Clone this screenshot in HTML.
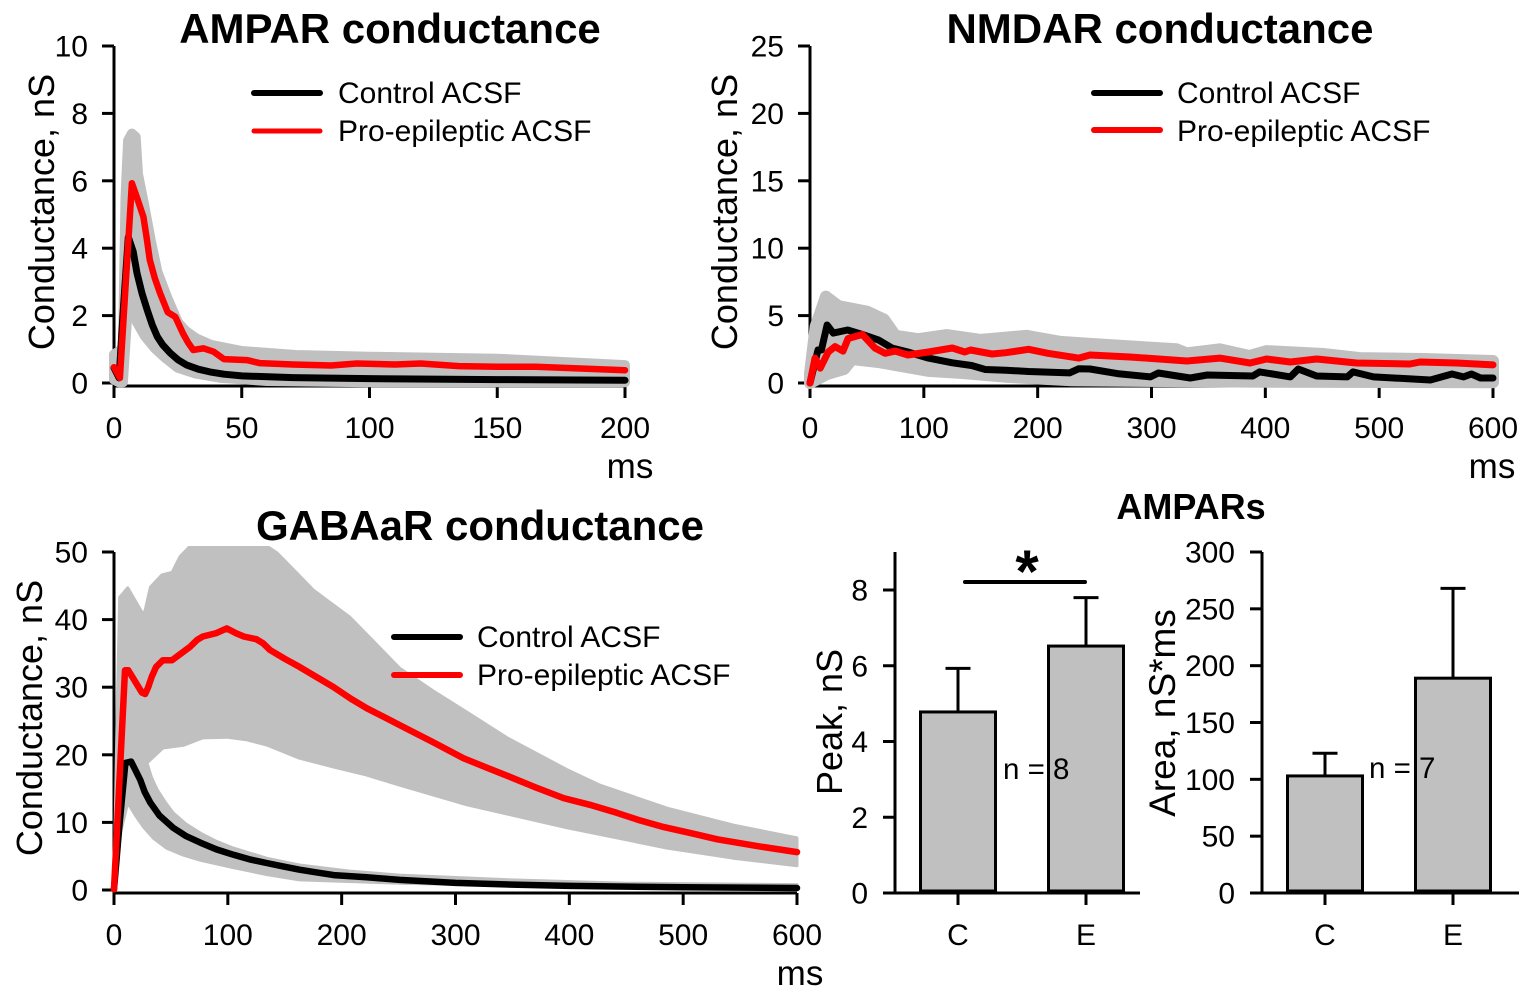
<!DOCTYPE html>
<html lang="en">
<head>
<meta charset="utf-8">
<title>Conductance chart</title>
<style>
html,body{margin:0;padding:0;background:#fff;}
svg{display:block;}
text{font-family:"Liberation Sans",Arial,sans-serif;fill:#000;}
.title{font-weight:bold;font-size:42px;text-anchor:middle;}
.axis-title{font-size:36px;text-anchor:middle;}
.legend{font-size:30px;}
.unit{font-size:35px;text-anchor:middle;}
.note{font-size:29.5px;}
</style>
</head>
<body>
<svg id="fig" xmlns="http://www.w3.org/2000/svg" width="1533" height="1000" viewBox="0 0 1533 1000">
  <defs>
    <clipPath id="gaba-clip"><rect x="90" y="546" width="730" height="360"/></clipPath>
  </defs>
  <rect x="0" y="0" width="1533" height="1000" fill="#fff"/>

  <g id="ampa"></g>
  <g id="nmda"></g>
  <g id="gaba"></g>
  <g id="peak"></g>
  <g id="area"></g>

  <text class="title" x="390" y="43">AMPAR conductance</text>
  <text class="title" x="1160" y="43">NMDAR conductance</text>
  <text class="title" x="480" y="540">GABAaR conductance</text>
  <text x="1191" y="519" font-size="36" font-weight="bold" text-anchor="middle">AMPARs</text>

  <text class="axis-title" transform="translate(54,212) rotate(-90)">Conductance, nS</text>
  <text class="axis-title" transform="translate(737,212) rotate(-90)">Conductance, nS</text>
  <text class="axis-title" transform="translate(42,718) rotate(-90)">Conductance, nS</text>
  <text class="axis-title" transform="translate(842,722) rotate(-90)">Peak, nS</text>
  <text class="axis-title" transform="translate(1175,713)  rotate(-90)" style="font-size:37px">Area, nS*ms</text>

  <text class="unit" x="630" y="478">ms</text>
  <text class="unit" x="1492" y="478">ms</text>
  <text class="unit" x="800" y="985">ms</text>

  <g>
    <line x1="254" y1="93" x2="320" y2="93" stroke="#000" stroke-width="6" stroke-linecap="round"/>
    <text class="legend" x="338" y="103">Control ACSF</text>
    <line x1="254" y1="131" x2="320" y2="131" stroke="#f00" stroke-width="5" stroke-linecap="round"/>
    <text class="legend" x="338" y="141">Pro-epileptic ACSF</text>
  </g>
  <g>
    <line x1="1094" y1="93" x2="1160" y2="93" stroke="#000" stroke-width="6" stroke-linecap="round"/>
    <text class="legend" x="1177" y="103">Control ACSF</text>
    <line x1="1094" y1="130" x2="1160" y2="130" stroke="#f00" stroke-width="6" stroke-linecap="round"/>
    <text class="legend" x="1177" y="141">Pro-epileptic ACSF</text>
  </g>
  <g>
    <line x1="394" y1="637" x2="460" y2="637" stroke="#000" stroke-width="6" stroke-linecap="round"/>
    <text class="legend" x="477" y="647">Control ACSF</text>
    <line x1="394" y1="675" x2="460" y2="675" stroke="#f00" stroke-width="6" stroke-linecap="round"/>
    <text class="legend" x="477" y="685">Pro-epileptic ACSF</text>
  </g>

  <text class="note" x="1003" y="779">n = 8</text>
  <text class="note" x="1369" y="778">n = 7</text>
  <line x1="965" y1="582" x2="1085" y2="582" stroke="#000" stroke-width="4" stroke-linecap="round"/>
  <text x="1027" y="592" font-size="60" font-weight="bold" text-anchor="middle">*</text>
</svg>

<script>
// ---------- AMPAR panel data ----------
const ampaTicksX = [0, 50, 100, 150, 200];
const ampaTicksY = [0, 2, 4, 6, 8, 10];
const ampaControlTime = [0, 2, 3.5, 5.6, 7.5, 9, 11, 13, 15, 17, 19, 22, 25, 28.5, 33, 37.5, 43, 50, 70, 100, 150, 200];
const ampaControlValue = [0.45, 0.15, 2, 4.33, 3.9, 3.26, 2.65, 2.17, 1.72, 1.37, 1.14, 0.89, 0.69, 0.53, 0.41, 0.33, 0.26, 0.21, 0.16, 0.13, 0.1, 0.08];
const ampaProTime = [0, 2.3, 7, 9, 11.5, 12.8, 14, 16, 18, 21, 24, 27, 29, 31, 35, 39, 43, 52, 57, 70, 85, 95, 110, 120, 135, 150, 165, 180, 200];
const ampaProValue = [0.47, 0.15, 5.93, 5.5, 4.93, 4.3, 3.65, 3.1, 2.67, 2.1, 1.96, 1.47, 1.2, 0.98, 1.03, 0.93, 0.71, 0.68, 0.59, 0.55, 0.52, 0.58, 0.55, 0.58, 0.5, 0.48, 0.48, 0.44, 0.38];
const ampaUpperTime = [0, 2, 3.5, 4.5, 5.5, 7, 8.5, 9.4, 12, 14.5, 17, 21, 25, 28, 32, 38, 50, 71, 100, 150, 200];
const ampaUpperValue = [0.85, 0.95, 1.0, 5.5, 7.2, 7.4, 7.3, 6.2, 5.2, 4.2, 3.3, 2.5, 1.8, 1.55, 1.33, 1.13, 0.95, 0.83, 0.78, 0.72, 0.53];
const ampaLowerTime = [0, 2, 3.5, 5.5, 7, 9, 12, 16, 20, 25, 32, 42, 60, 100, 200];
const ampaLowerValue = [0.1, 0.02, 0.02, 2.4, 2.5, 1.8, 1.4, 1.03, 0.75, 0.45, 0.28, 0.15, 0.06, 0.02, 0.02];

// ---------- NMDAR panel data ----------
const nmdaTicksX = [0, 100, 200, 300, 400, 500, 600];
const nmdaTicksY = [0, 5, 10, 15, 20, 25];
const nmdaControlTime = [0, 7, 10, 15, 20.5, 33, 46, 60, 72, 86, 104, 125, 142, 154, 172, 192, 228, 236, 246, 270, 299, 306, 334, 349, 389, 395, 422, 429, 445, 472, 477, 495, 545, 564, 574, 581, 589, 600];
const nmdaControlValue = [0, 2.45, 2.45, 4.3, 3.7, 3.93, 3.6, 3.2, 2.6, 2.3, 1.85, 1.5, 1.3, 1.0, 0.95, 0.85, 0.75, 1.05, 1.04, 0.7, 0.45, 0.74, 0.37, 0.59, 0.52, 0.82, 0.45, 1.04, 0.52, 0.45, 0.82, 0.45, 0.22, 0.67, 0.45, 0.67, 0.37, 0.37];
const nmdaProTime = [0, 4.4, 9, 16, 22, 29, 33.5, 46, 57, 66, 75, 86, 104, 125, 136, 141, 160, 172, 192, 209, 236, 246, 281, 331, 360, 386.5, 401, 422, 445, 480, 527, 536, 568, 600];
const nmdaProValue = [0, 1.85, 1.1, 2.3, 2.7, 2.37, 3.3, 3.6, 2.6, 2.2, 2.37, 2.08, 2.3, 2.6, 2.3, 2.45, 2.15, 2.25, 2.5, 2.2, 1.85, 2.08, 1.93, 1.63, 1.85, 1.48, 1.78, 1.56, 1.78, 1.48, 1.41, 1.56, 1.48, 1.34];
const nmdaUpperTime = [0, 5, 14, 25, 50, 65, 75, 95, 120, 150, 190, 220, 246, 322, 331, 360, 386, 401, 451, 483, 539, 600];
const nmdaUpperValue = [0.7, 4.2, 6.4, 5.7, 5.3, 4.7, 3.5, 3.25, 3.55, 3.2, 3.5, 3.05, 2.9, 2.5, 2.2, 2.5, 2.0, 2.37, 2.15, 1.85, 1.78, 1.63];
const nmdaLowerTime = [0, 15, 30, 37, 60, 104, 134, 174, 230, 400, 600];
const nmdaLowerValue = [0, 0.67, 1.04, 1.78, 1.56, 0.9, 0.74, 0.45, 0.2, 0.1, 0.05];

// ---------- GABAaR panel data ----------
const gabaTicksX = [0, 100, 200, 300, 400, 500, 600];
const gabaTicksY = [0, 10, 20, 30, 40, 50];
const gabaControlTime = [0, 5, 10, 15, 18, 23, 27, 32, 40, 52, 63, 76, 90, 105, 120, 134, 148, 163, 178, 193, 222, 251, 300, 350, 400, 500, 600];
const gabaControlValue = [0.1, 10, 18.8, 19, 18, 16.3, 14.5, 12.9, 11, 9.2, 8, 7, 6, 5.2, 4.5, 4, 3.5, 3, 2.6, 2.2, 1.9, 1.5, 1.05, 0.8, 0.6, 0.4, 0.3];
const gabaProTime = [0, 9.7, 12.6, 18, 24.5, 27.4, 30, 33, 37, 43, 51, 59, 67, 73, 78, 90, 99, 107, 114, 125, 131, 137, 150, 163, 178, 193, 208, 222, 237, 251, 280, 307, 326, 345.5, 370, 395, 418, 442, 462, 483, 507, 530, 565, 600];
const gabaProValue = [0.1, 32.5, 32.5, 31, 29.2, 29, 30, 31.5, 33, 34, 34, 35, 36, 37, 37.5, 38, 38.7, 38, 37.5, 37.1, 36.5, 35.5, 34.2, 33, 31.5, 30, 28.3, 26.9, 25.6, 24.4, 21.9, 19.5, 18.2, 16.9, 15.2, 13.6, 12.6, 11.4, 10.3, 9.3, 8.4, 7.5, 6.5, 5.6];
const gabaProUpperTime = [0, 3, 5, 12, 24.5, 27, 32, 42, 51, 58, 67, 100, 134, 143, 160, 175, 190, 207, 229, 251, 280, 310, 345.5, 398, 427, 486, 544, 600];
const gabaProUpperValue = [0.4, 28, 43.3, 44.7, 41.1, 41.1, 44.8, 46.6, 47, 49.3, 50.9, 54, 50.9, 49.9, 47, 44.4, 42.5, 40.4, 36.6, 32.8, 29.5, 26.3, 22.5, 17.8, 15.5, 12.1, 9.6, 7.7];
const gabaProLowerTime = [0, 5, 10, 29, 43, 61, 78, 99, 117, 135, 163, 193, 222, 251, 310, 398, 486, 544, 600];
const gabaProLowerValue = [0.2, 15, 17, 18.8, 21, 21.4, 22.5, 22.6, 22.2, 21.4, 19.5, 18.2, 17, 15.5, 12.6, 9.2, 6.2, 4.7, 3.6];
const gabaControlUpperTime = [0, 5, 11, 29, 33, 38, 45, 52, 63, 76, 90, 105, 134, 163, 207, 251, 350, 450, 600];
const gabaControlUpperValue = [0.4, 15, 20, 18.8, 16.6, 14.8, 13, 11.4, 9.8, 8.4, 7.2, 6.2, 4.7, 3.7, 2.8, 2.2, 1.5, 1.0, 0.8];
const gabaControlLowerTime = [0, 5, 12, 19, 26, 35, 46, 60, 76, 105, 134, 163, 251, 400, 600];
const gabaControlLowerValue = [0, 8, 12.9, 11, 9.3, 7.6, 6.2, 5.2, 4.4, 3.3, 2.3, 1.5, 1.0, 0.5, 0.2];

// ---------- Bar panels data ----------
const barCategories = ['C', 'E'];
const peakTicksY = [0, 2, 4, 6, 8];
const peakMeans = [4.78, 6.52];
const peakErrorTops = [5.93, 7.8];
const areaTicksY = [0, 50, 100, 150, 200, 250, 300];
const areaMeans = [103, 189];
const areaErrorTops = [123, 268];

// ---------- Axis functions ----------
const ampaX = t => 114 + t * (625 - 114) / 200;
const ampaY = v => 383 - v * (383 - 46) / 10;
const nmdaX = t => 810 + t * (1493 - 810) / 600;
const nmdaY = v => 383 - v * (383 - 46) / 25;
const gabaX = t => 114 + t * (797 - 114) / 600;
const gabaY = v => 890 - v * (890 - 552) / 50;
const peakY = v => 893 - v * (893 - 590) / 8;
const areaY = v => 893 - v * (893 - 552) / 300;
const peakBarX = i => 958 + i * 128;
const areaBarX = i => 1325 + i * 128;

const NS = 'http://www.w3.org/2000/svg';
function make(tag, parent, attrs, text) {
  const node = document.createElementNS(NS, tag);
  for (const key in attrs) node.setAttribute(key, attrs[key]);
  if (text !== undefined) node.textContent = text;
  parent.appendChild(node);
  return node;
}

function drawAxes(parent, o) {
  const yLine = make('line', parent, {x1: o.xAxisX, y1: o.yTop, x2: o.xAxisX, y2: o.base, stroke: '#000', 'stroke-width': 3});
  
  
  const xLine = make('line', parent, {x1: o.xStart, y1: o.base, x2: o.xEnd, y2: o.base, stroke: '#000', 'stroke-width': 3});
  
  
  o.ticksY.forEach(v => {
    const tick = make('line', parent, {x1: o.xAxisX - 12, y1: o.y(v), x2: o.xAxisX, y2: o.y(v), stroke: '#000', 'stroke-width': 3});
    
    
    const label = make('text', parent, {x: o.xAxisX - o.labelGap, y: o.y(v) + 10.5, 'font-size': 30, 'text-anchor': 'end'}, String(v));
    
    
  });
  o.ticksX.forEach((v, i) => {
    const x = o.x(v, i);
    const tick = make('line', parent, {x1: x, y1: o.base, x2: x, y2: o.base + 12, stroke: '#000', 'stroke-width': 3});
    
    
    const label = make('text', parent, {x: x, y: o.base + 52, 'font-size': 30, 'text-anchor': 'middle'}, String(v));
    
    
  });
}

function pointList(times, values, x, y) {
  return times.map((t, i) => x(t).toFixed(1) + ',' + y(values[i]).toFixed(1));
}

function drawBand(parent, upT, upV, loT, loV, x, y, width, name) {
  const upper = pointList(upT, upV, x, y);
  const lower = pointList(loT, loV, x, y).reverse();
  const band = make('polygon', parent, {points: upper.concat(lower).join(' '), fill: '#c0c0c0', stroke: '#c0c0c0', 'stroke-width': width, 'stroke-linejoin': 'round'});
  
  
  return band;
}

function drawLine(parent, times, values, x, y, color, width, name) {
  const line = make('polyline', parent, {points: pointList(times, values, x, y).join(' '), fill: 'none', stroke: color, 'stroke-width': width, 'stroke-linejoin': 'round', 'stroke-linecap': 'round'});
  
  
  return line;
}

function drawBars(parent, means, tops, x, y, base) {
  means.forEach((m, i) => {
    const cx = x(i);
    const stem = make('line', parent, {x1: cx, y1: y(m), x2: cx, y2: y(tops[i]), stroke: '#000', 'stroke-width': 3});
    
    
    const cap = make('line', parent, {x1: cx - 12.5, y1: y(tops[i]), x2: cx + 12.5, y2: y(tops[i]), stroke: '#000', 'stroke-width': 3});
    
    
    const bar = make('rect', parent, {x: cx - 37.5, y: y(m), width: 75, height: base - y(m), fill: '#c0c0c0', stroke: '#000', 'stroke-width': 3});
    
    
  });
}

// ---------- AMPAR ----------
const ampaG = document.getElementById('ampa');
drawAxes(ampaG, {xAxisX: 114, yTop: 46, base: 386, xStart: 114, xEnd: 625, ticksY: ampaTicksY, ticksX: ampaTicksX, x: ampaX, y: ampaY, labelGap: 26});
drawBand(ampaG, ampaUpperTime, ampaUpperValue, ampaLowerTime, ampaLowerValue, ampaX, ampaY, 10, 'ampar-error-band');
drawLine(ampaG, ampaControlTime, ampaControlValue, ampaX, ampaY, '#000', 7, 'ampar-control-line');
drawLine(ampaG, ampaProTime, ampaProValue, ampaX, ampaY, '#f00', 6.5, 'ampar-pro-epileptic-line');

// ---------- NMDAR ----------
const nmdaG = document.getElementById('nmda');
drawAxes(nmdaG, {xAxisX: 810, yTop: 46, base: 386, xStart: 810, xEnd: 1493, ticksY: nmdaTicksY, ticksX: nmdaTicksX, x: nmdaX, y: nmdaY, labelGap: 26});
drawBand(nmdaG, nmdaUpperTime, nmdaUpperValue, nmdaLowerTime, nmdaLowerValue, nmdaX, nmdaY, 12, 'nmdar-error-band');
drawLine(nmdaG, nmdaControlTime, nmdaControlValue, nmdaX, nmdaY, '#000', 7, 'nmdar-control-line');
drawLine(nmdaG, nmdaProTime, nmdaProValue, nmdaX, nmdaY, '#f00', 7, 'nmdar-pro-epileptic-line');

// ---------- GABAaR ----------
const gabaG = document.getElementById('gaba');
drawAxes(gabaG, {xAxisX: 114, yTop: 552, base: 893, xStart: 114, xEnd: 797, ticksY: gabaTicksY, ticksX: gabaTicksX, x: gabaX, y: gabaY, labelGap: 26});
const gabaProBand = drawBand(gabaG, gabaProUpperTime, gabaProUpperValue, gabaProLowerTime, gabaProLowerValue, gabaX, gabaY, 3, 'gabaar-pro-epileptic-error-band');
gabaProBand.setAttribute('clip-path', 'url(#gaba-clip)');
drawBand(gabaG, gabaControlUpperTime, gabaControlUpperValue, gabaControlLowerTime, gabaControlLowerValue, gabaX, gabaY, 3, 'gabaar-control-error-band');
drawLine(gabaG, gabaControlTime, gabaControlValue, gabaX, gabaY, '#000', 6.5, 'gabaar-control-line');
drawLine(gabaG, gabaProTime, gabaProValue, gabaX, gabaY, '#f00', 6.5, 'gabaar-pro-epileptic-line');

// ---------- Bars ----------
const peakG = document.getElementById('peak');
drawAxes(peakG, {xAxisX: 895, yTop: 552, base: 893, xStart: 883, xEnd: 1140, ticksY: peakTicksY, ticksX: barCategories, x: (c, i) => peakBarX(i), y: peakY, labelGap: 27});
drawBars(peakG, peakMeans, peakErrorTops, peakBarX, peakY, 891);

const areaG = document.getElementById('area');
drawAxes(areaG, {xAxisX: 1262, yTop: 552, base: 893, xStart: 1250, xEnd: 1519, ticksY: areaTicksY, ticksX: barCategories, x: (c, i) => areaBarX(i), y: areaY, labelGap: 27});
drawBars(areaG, areaMeans, areaErrorTops, areaBarX, areaY, 891);
</script>
</body>
</html>
